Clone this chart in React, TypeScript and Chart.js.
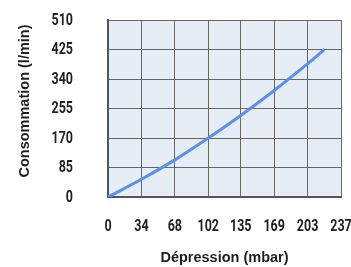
import React, { useEffect, useRef } from "react";
import { Chart, registerables } from "chart.js";

Chart.register(...registerables);

const xValues = [0, 34, 68, 102, 135, 169, 203, 220];
const yValues = [0, 51, 107, 170, 235, 307, 384, 425];
const xTicks = [0, 34, 68, 102, 135, 169, 203, 237];
const yTicks = [0, 85, 170, 255, 340, 425, 510];
const xTitle = "Dépression (mbar)";
const yTitle = "Consommation (l/min)";

const TICK_FONT = "bold 16px Roboto, 'Liberation Sans', sans-serif";
const TITLE_FONT = "bold 14.5px 'Liberation Sans', Arial, sans-serif";
const TEXT_COLOR = "#1e1e1e";

const bgPlugin = {
  id: "plotBg",
  beforeDraw(chart: any) {
    const { ctx, chartArea } = chart;
    if (!chartArea) return;
    ctx.save();
    ctx.fillStyle = "#e7edf5";
    ctx.fillRect(chartArea.left, chartArea.top, chartArea.right - chartArea.left, chartArea.bottom - chartArea.top);
    ctx.restore();
  },
};

const textPlugin = {
  id: "axisText",
  afterDraw(chart: any) {
    const { ctx, chartArea, scales } = chart;
    ctx.save();
    ctx.fillStyle = TEXT_COLOR;
    ctx.font = TICK_FONT;
    ctx.textBaseline = "middle";
    const sx = 0.78;
    ctx.textAlign = "right";
    for (const v of yTicks) {
      const y = scales.y.getPixelForValue(v);
      ctx.save();
      ctx.translate(73, y + 0.5);
      ctx.scale(sx, 1);
      ctx.fillText(String(v), 0, 0);
      ctx.restore();
    }
    ctx.textAlign = "center";
    for (const v of xTicks) {
      const x = scales.x.getPixelForValue(v);
      ctx.save();
      ctx.translate(x, 226.5);
      ctx.scale(sx, 1);
      ctx.fillText(String(v), 0, 0);
      ctx.restore();
    }
    ctx.font = TITLE_FONT;
    ctx.textAlign = "center";
    ctx.fillText(xTitle, (chartArea.left + chartArea.right) / 2, 258);
    ctx.save();
    ctx.translate(24.5, 101);
    ctx.rotate(-Math.PI / 2);
    ctx.fillText(yTitle, 0, 0);
    ctx.restore();
    ctx.restore();
  },
};

export default function App() {
  const ref = useRef<HTMLCanvasElement>(null);
  useEffect(() => {
    document.body.style.margin = "0";
    const chart = new Chart(ref.current!, {
      type: "line",
      data: {
        datasets: [
          {
            data: xValues.map((x, i) => ({ x, y: yValues[i] })),
            borderColor: "#5b8ff0",
            borderWidth: 3,
            pointRadius: 0,
            fill: false,
            tension: 0.4,
          },
        ],
      },
      options: {
        animation: false,
        responsive: false,
        events: [],
        layout: { padding: { left: 0, right: 10, top: 20, bottom: 0 } },
        plugins: { legend: { display: false }, tooltip: { enabled: false } },
        scales: {
          x: {
            type: "linear",
            min: 0,
            max: 237,
            afterBuildTicks: (s: any) => {
              s.ticks = xTicks.map((v) => ({ value: v }));
            },
            afterFit: (s: any) => {
              s.height = 70;
            },
            ticks: { display: false },
            grid: { color: "#666", lineWidth: 1, drawTicks: false },
            border: { color: "#555", width: 2 },
          },
          y: {
            min: 0,
            max: 510,
            afterBuildTicks: (s: any) => {
              s.ticks = yTicks.map((v) => ({ value: v }));
            },
            afterFit: (s: any) => {
              s.width = 108;
            },
            ticks: { display: false },
            grid: { color: "#666", lineWidth: 1, drawTicks: false },
            border: { color: "#555", width: 2 },
          },
        },
      },
      plugins: [bgPlugin, textPlugin],
    });
    return () => chart.destroy();
  }, []);
  return <canvas ref={ref} width={351} height={267} style={{ display: "block" }} />;
}
